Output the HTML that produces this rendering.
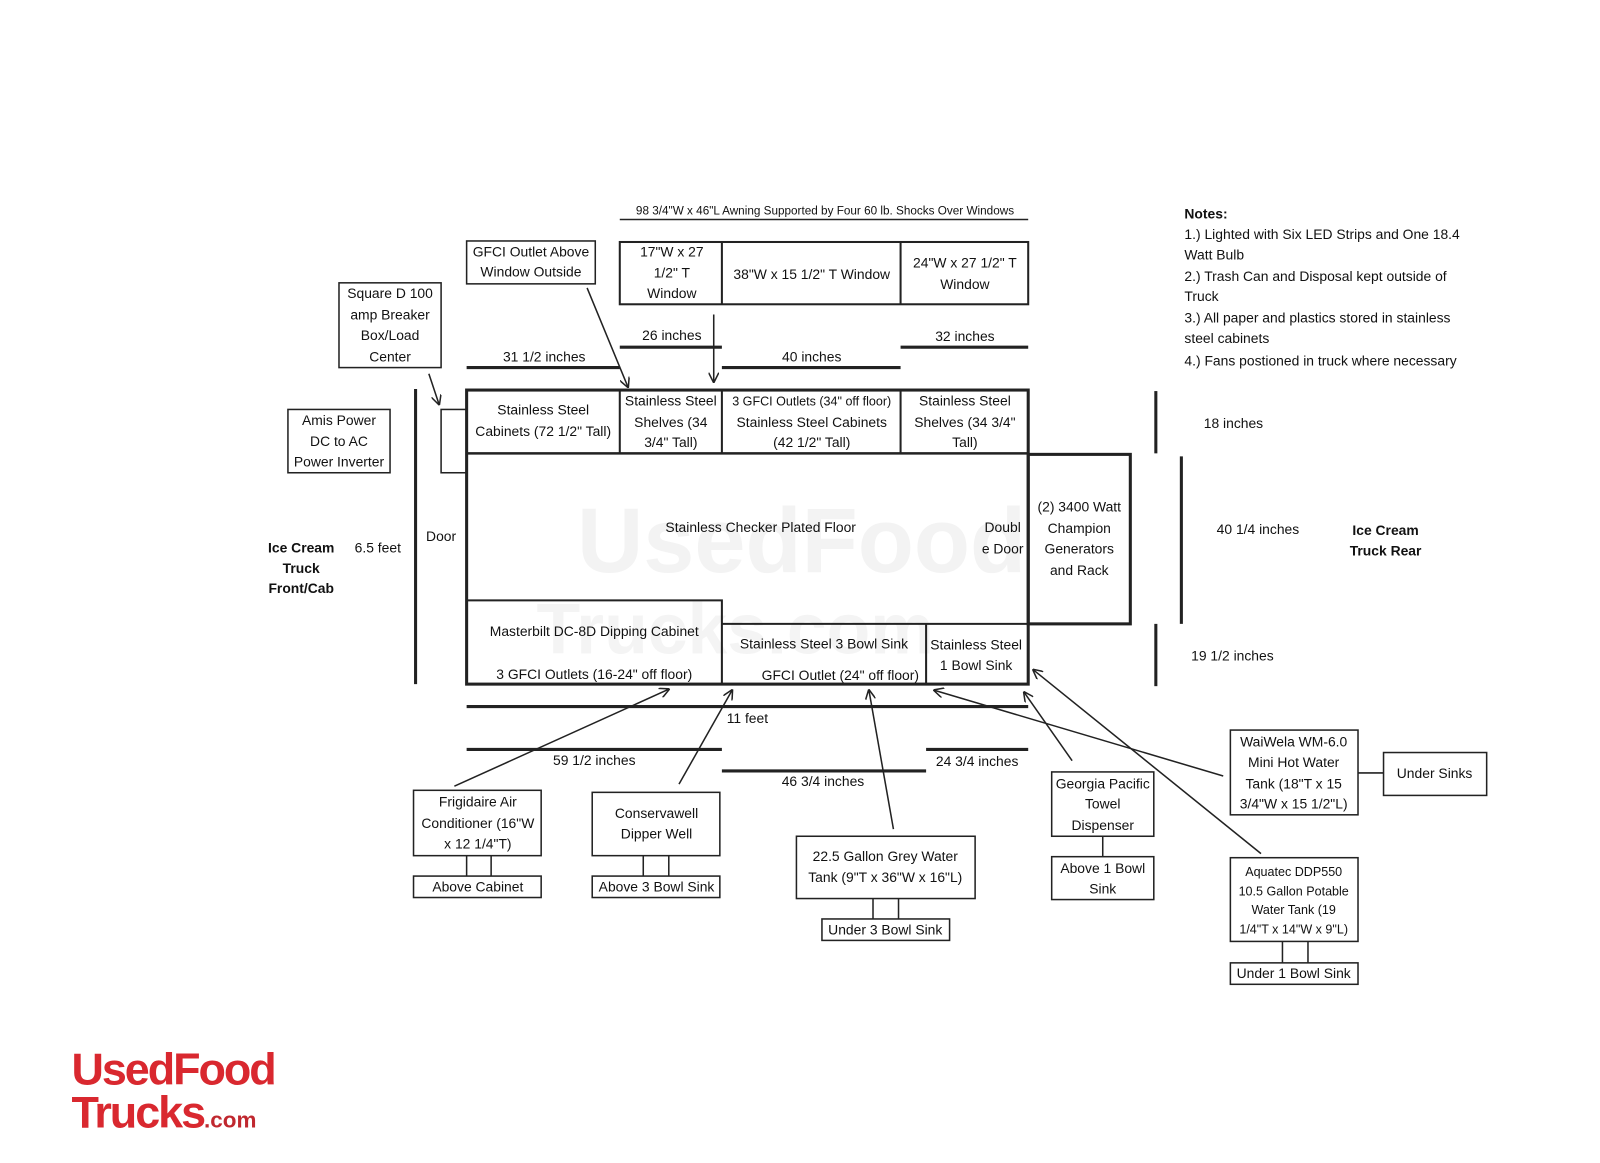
<!DOCTYPE html>
<html><head><meta charset="utf-8"><style>
html,body{margin:0;padding:0;background:#fff;}
svg{display:block}
text{font-family:"Liberation Sans Narrow","Liberation Sans",sans-serif;font-size:13.6px;fill:#111;text-anchor:middle}
.b{font-weight:bold}
.l{text-anchor:start}
</style></head><body>
<svg width="1600" height="1163" viewBox="0 0 1567 1139" preserveAspectRatio="none" xmlns="http://www.w3.org/2000/svg">
<defs><marker id="a" markerWidth="10" markerHeight="10" refX="9" refY="5" orient="auto" markerUnits="userSpaceOnUse"><path d="M0,0 L10,5 L0,10" fill="none" stroke="#222" stroke-width="1.5"/></marker></defs>
<rect width="1567" height="1139" fill="#fff"/>
<text x="785" y="560" style="font-size:90px;font-weight:bold;fill:#f3f3f3;font-family:'Liberation Sans',sans-serif">UsedFood</text>
<text x="720" y="640" style="font-size:70px;font-weight:bold;fill:#f4f4f4;font-family:'Liberation Sans',sans-serif">Trucks.com</text>
<g stroke="#222" fill="none" stroke-width="2">
<line x1="607" y1="215" x2="1007" y2="215" stroke-width="1.5"/>
<rect x="607" y="237" width="400" height="61"/>
<line x1="707" y1="237" x2="707" y2="298"/><line x1="882" y1="237" x2="882" y2="298"/>
<g stroke-width="3">
<line x1="607" y1="340" x2="707" y2="340"/><line x1="882" y1="340" x2="1007" y2="340"/>
<line x1="457" y1="360" x2="607" y2="360"/><line x1="707" y1="360" x2="882" y2="360"/>
<line x1="407" y1="381" x2="407" y2="670"/>
<line x1="1132" y1="383" x2="1132" y2="444"/><line x1="1157" y1="447" x2="1157" y2="611"/><line x1="1132" y1="611" x2="1132" y2="672"/>
<line x1="457" y1="692" x2="1007" y2="692"/>
<line x1="457" y1="734" x2="707" y2="734"/><line x1="707" y1="755" x2="907" y2="755"/><line x1="907" y1="734" x2="1007" y2="734"/>
</g>
<rect x="457" y="236" width="126" height="42" stroke-width="1.5"/>
<rect x="332" y="277" width="100" height="83" stroke-width="1.5"/>
<rect x="282" y="401" width="100" height="62" stroke-width="1.5"/>
<rect x="432" y="401" width="25" height="62" stroke-width="1.5"/>
<rect x="457" y="382" width="550" height="288" stroke-width="3"/>
<line x1="457" y1="444" x2="1007" y2="444" stroke-width="2.5"/>
<line x1="607" y1="382" x2="607" y2="444"/><line x1="707" y1="382" x2="707" y2="444"/><line x1="882" y1="382" x2="882" y2="444"/>
<polyline points="457,588 707,588 707,670"/>
<polyline points="707,611 1007,611"/><line x1="907" y1="611" x2="907" y2="670"/>
<rect x="1007" y="445" width="100" height="166" stroke-width="3"/>
<g stroke-width="1.5">
<rect x="405" y="774" width="125" height="64"/><rect x="405" y="858" width="125" height="21"/>
<line x1="457" y1="838" x2="457" y2="858"/><line x1="481" y1="838" x2="481" y2="858"/>
<rect x="580" y="776" width="125" height="62"/><rect x="580" y="858" width="125" height="21"/>
<line x1="630" y1="838" x2="630" y2="858"/><line x1="655" y1="838" x2="655" y2="858"/>
<rect x="780" y="819" width="175" height="61"/><rect x="805" y="900" width="125" height="21"/>
<line x1="855" y1="880" x2="855" y2="900"/><line x1="880" y1="880" x2="880" y2="900"/>
<rect x="1030" y="756" width="100" height="63"/><rect x="1030" y="839" width="100" height="42"/>
<line x1="1080" y1="819" x2="1080" y2="839"/>
<rect x="1205" y="715" width="125" height="83"/><rect x="1355" y="737" width="101" height="42"/>
<line x1="1330" y1="757" x2="1355" y2="757"/>
<rect x="1205" y="840" width="125" height="82"/><rect x="1205" y="943" width="125" height="21"/>
<line x1="1256" y1="922" x2="1256" y2="943"/><line x1="1281" y1="922" x2="1281" y2="943"/>
<line x1="699" y1="308" x2="699" y2="374" marker-end="url(#a)"/>
<line x1="575" y1="282" x2="615" y2="379" marker-end="url(#a)"/>
<line x1="420" y1="366" x2="430" y2="396" marker-end="url(#a)"/>
<line x1="445" y1="770" x2="655" y2="675" marker-end="url(#a)"/>
<line x1="665" y1="768" x2="717" y2="676" marker-end="url(#a)"/>
<line x1="875" y1="812" x2="851" y2="676" marker-end="url(#a)"/>
<line x1="1050" y1="745" x2="1003" y2="678" marker-end="url(#a)"/>
<line x1="1198" y1="760" x2="915" y2="676" marker-end="url(#a)"/>
<line x1="1235" y1="836" x2="1012" y2="656" marker-end="url(#a)"/>
</g>
</g>
<text x="808" y="210" style="font-size:11.5px">98 3/4"W x 46"L Awning Supported by Four 60 lb. Shocks Over Windows</text>
<text x="658" y="251">17"W x 27</text><text x="658" y="272">1/2" T</text><text x="658" y="292">Window</text>
<text x="795" y="273">38"W x 15 1/2" T Window</text>
<text x="945" y="262">24"W x 27 1/2" T</text><text x="945" y="283">Window</text>
<text x="658" y="333">26 inches</text><text x="945" y="334">32 inches</text>
<text x="533" y="354">31 1/2 inches</text><text x="795" y="354">40 inches</text>
<text x="520" y="251">GFCI Outlet Above</text><text x="520" y="271">Window Outside</text>
<text x="382" y="292">Square D 100</text><text x="382" y="313">amp Breaker</text><text x="382" y="333">Box/Load</text><text x="382" y="354">Center</text>
<text x="332" y="416">Amis Power</text><text x="332" y="437">DC to AC</text><text x="332" y="457">Power Inverter</text>
<text x="532" y="406">Stainless Steel</text><text x="532" y="427">Cabinets (72 1/2" Tall)</text>
<text x="657" y="397">Stainless Steel</text><text x="657" y="418">Shelves (34</text><text x="657" y="438">3/4" Tall)</text>
<text x="795" y="397" style="font-size:12.3px">3 GFCI Outlets (34" off floor)</text><text x="795" y="418">Stainless Steel Cabinets</text><text x="795" y="438">(42 1/2" Tall)</text>
<text x="945" y="397">Stainless Steel</text><text x="945" y="418">Shelves (34 3/4"</text><text x="945" y="438">Tall)</text>
<text x="745" y="521">Stainless Checker Plated Floor</text>
<text x="982" y="521">Doubl</text><text x="982" y="542">e Door</text>
<text x="1057" y="501">(2) 3400 Watt</text><text x="1057" y="522">Champion</text><text x="1057" y="542">Generators</text><text x="1057" y="563">and Rack</text>
<text x="582" y="623">Masterbilt DC-8D Dipping Cabinet</text><text x="582" y="665">3 GFCI Outlets (16-24" off floor)</text>
<text x="807" y="635">Stainless Steel 3 Bowl Sink</text><text x="823" y="666">GFCI Outlet (24" off floor)</text>
<text x="956" y="636">Stainless Steel</text><text x="956" y="656">1 Bowl Sink</text>
<text x="432" y="530">Door</text><text x="370" y="541">6.5 feet</text>
<text x="295" y="541" class="b">Ice Cream</text><text x="295" y="561" class="b">Truck</text><text x="295" y="581" class="b">Front/Cab</text>
<text x="1208" y="419">18 inches</text><text x="1232" y="523">40 1/4 inches</text><text x="1207" y="647">19 1/2 inches</text>
<text x="1357" y="524" class="b">Ice Cream</text><text x="1357" y="544" class="b">Truck Rear</text>
<text x="732" y="708">11 feet</text><text x="582" y="749">59 1/2 inches</text><text x="806" y="770">46 3/4 inches</text><text x="957" y="750">24 3/4 inches</text>
<text x="468" y="790">Frigidaire Air</text><text x="468" y="811">Conditioner (16"W</text><text x="468" y="831">x 12 1/4"T)</text>
<text x="468" y="873">Above Cabinet</text>
<text x="643" y="801">Conservawell</text><text x="643" y="821">Dipper Well</text>
<text x="643" y="873">Above 3 Bowl Sink</text>
<text x="867" y="843">22.5 Gallon Grey Water</text><text x="867" y="864">Tank (9"T x 36"W x 16"L)</text>
<text x="867" y="915">Under 3 Bowl Sink</text>
<text x="1080" y="772">Georgia Pacific</text><text x="1080" y="792">Towel</text><text x="1080" y="813">Dispenser</text>
<text x="1080" y="855">Above 1 Bowl</text><text x="1080" y="875">Sink</text>
<text x="1267" y="731">WaiWela WM-6.0</text><text x="1267" y="751">Mini Hot Water</text><text x="1267" y="772">Tank (18"T x 15</text><text x="1267" y="792">3/4"W x 15 1/2"L)</text>
<text x="1405" y="762">Under Sinks</text>
<text x="1267" y="858" style="font-size:12.3px">Aquatec DDP550</text><text x="1267" y="877" style="font-size:12.3px">10.5 Gallon Potable</text><text x="1267" y="895" style="font-size:12.3px">Water Tank (19</text><text x="1267" y="914" style="font-size:12.3px">1/4"T x 14"W x 9"L)</text>
<text x="1267" y="958">Under 1 Bowl Sink</text>
<text x="1160" y="214" class="l b">Notes:</text>
<text x="1160" y="234" class="l">1.) Lighted with Six LED Strips and One 18.4</text>
<text x="1160" y="254" class="l">Watt Bulb</text>
<text x="1160" y="275" class="l">2.) Trash Can and Disposal kept outside of</text>
<text x="1160" y="295" class="l">Truck</text>
<text x="1160" y="316" class="l">3.) All paper and plastics stored in stainless</text>
<text x="1160" y="336" class="l">steel cabinets</text>
<text x="1160" y="358" class="l">4.) Fans postioned in truck where necessary</text>
<text x="70" y="1062" class="l" style="font-family:'Liberation Sans',sans-serif;font-size:44px;font-weight:bold;fill:#d9282f;letter-spacing:-2px">UsedFood</text>
<text x="70" y="1104" class="l" style="font-family:'Liberation Sans',sans-serif;font-size:44px;font-weight:bold;fill:#d9282f;letter-spacing:-2px">Trucks<tspan style="font-size:22px;letter-spacing:0;fill:#c0282f">.com</tspan></text>
</svg>
</body></html>
